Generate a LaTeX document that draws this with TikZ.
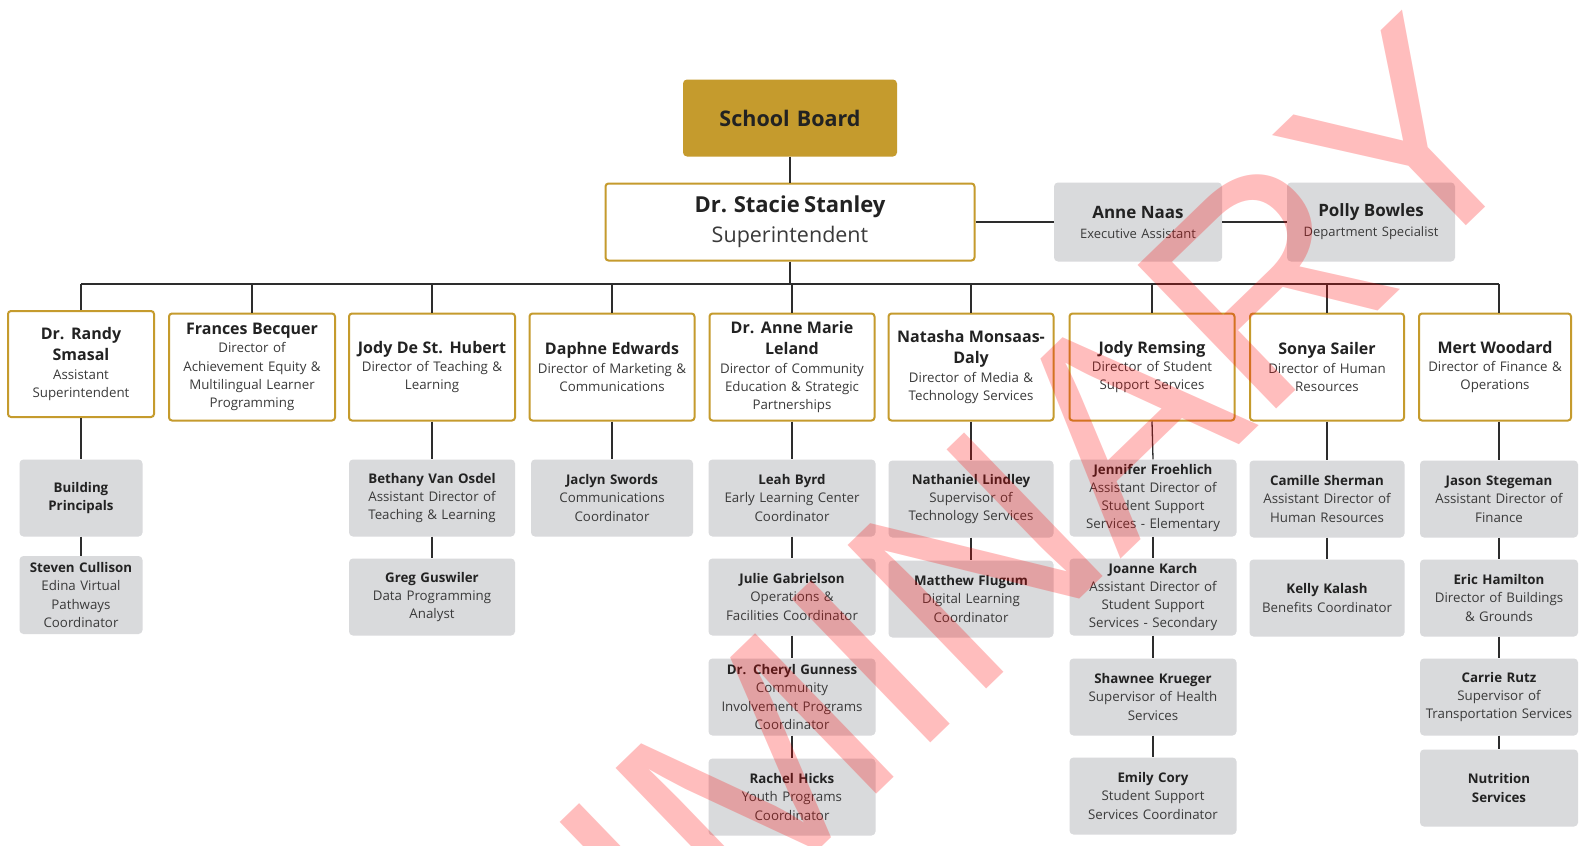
\documentclass[tikz,border=0pt]{standalone}
\usepackage{fontspec}
\setmainfont{Open Sans}
\newfontfamily\wmfont{Liberation Sans}
\setlength{\parindent}{0pt}
\definecolor{gold}{RGB}{197,155,45}
\definecolor{boxgray}{RGB}{217,218,220}
\definecolor{linegray}{RGB}{45,45,45}
\definecolor{txt}{RGB}{34,34,34}
\definecolor{subtxt}{RGB}{58,58,58}
\newcommand{\gnm}[1]{{\color{txt}\bfseries #1\par}}
\newcommand{\dnm}[1]{{\color{txt}\fontsize{16}{21.5}\selectfont\bfseries #1\par}}
\newcommand{\lowerend}{\par\vskip-6pt}
\begin{document}
\begin{tikzpicture}[x=1pt,y=-1pt,
  conn/.style={draw=linegray,line width=1.3pt},
  bx/.style 2 args={minimum width=#1pt,text width=#1pt,minimum height=#2pt},
  basebox/.style={align=center,inner sep=0pt,text=subtxt,font=\fontsize{13.3}{18.3}\selectfont},
  lowered/.style={execute at end node=\lowerend},
  dirbox/.style={basebox,lowered,draw=gold,line width=2pt,fill=white,rounded corners=3pt},
  staffbox/.style={basebox,lowered,fill=boxgray,rounded corners=4pt},
]
\path[use as bounding box] (0,0) rectangle (1583,846);
\clip (0,0) rectangle (1583,846);
\fill[white] (0,0) rectangle (1583,846);

% top
\node[basebox,fill=gold,rounded corners=4pt,bx={214}{77},text=txt,font=\fontsize{21.5}{26}\selectfont\bfseries] (board) at (790,118) {School Board};
\node[dirbox,bx={369}{77}] (supt) at (790,222) {{\color{txt}\fontsize{22}{30}\selectfont\bfseries Dr. Stacie Stanley\par}{\fontsize{21.5}{30}\selectfont Superintendent\par}};
\node[staffbox,bx={168}{79}] (naas) at (1138,222) {{\color{txt}\fontsize{17}{20}\selectfont\bfseries Anne Naas\par}{\fontsize{13}{20}\selectfont Executive Assistant\par}};
\node[staffbox,bx={168}{79}] (polly) at (1371,222) {{\color{txt}\fontsize{17}{20}\selectfont\bfseries Polly Bowles\par}{\fontsize{13}{20}\selectfont Department Specialist\par}};

% directors
\node[dirbox,bx={146}{106}] (randy) at (81,364) {\dnm{Dr. Randy\\Smasal}Assistant\\Superintendent};
\node[dirbox,bx={166}{107}] (frances) at (252,367) {\dnm{Frances Becquer}Director of\\Achievement Equity \&\\Multilingual Learner\\Programming};
\node[dirbox,bx={166}{107}] (jodyd) at (432,367) {\dnm{Jody De St. Hubert}Director of Teaching \&\\Learning};
\node[dirbox,bx={165}{107}] (daphne) at (612,367) {\dnm{Daphne Edwards}Director of Marketing \&\\Communications};
\node[dirbox,bx={165}{107}] (leland) at (792,367) {\dnm{Dr. Anne Marie\\Leland}Director of Community\\Education \& Strategic\\Partnerships};
\node[dirbox,bx={165}{107}] (natasha) at (971,367) {\dnm{Natasha Monsaas-\\Daly}Director of Media \&\\Technology Services};
\node[dirbox,bx={165}{107}] (jodyr) at (1152,367) {\dnm{Jody Remsing}Director of Student\\Support Services};
\node[dirbox,bx={154}{107}] (sonya) at (1327,367) {\dnm{Sonya Sailer}Director of Human\\Resources};
\node[dirbox,bx={152}{107}] (mert) at (1495,367) {\dnm{Mert Woodard}Director of Finance \&\\Operations};

% staff
\node[staffbox,bx={123}{77}] (bldg) at (81,498) {\gnm{Building\\Principals}};
\node[staffbox,bx={123}{78}] (steven) at (81,595) {\gnm{Steven Cullison}Edina Virtual\\Pathways\\Coordinator};

\node[staffbox,bx={166}{77}] (bethany) at (432,498) {\gnm{Bethany Van Osdel}Assistant Director of\\Teaching \& Learning};
\node[staffbox,bx={166}{77}] (greg) at (432,597) {\gnm{Greg Guswiler}Data Programming\\Analyst};

\node[staffbox,bx={162}{77}] (jaclyn) at (612,498) {\gnm{Jaclyn Swords}Communications\\Coordinator};

\node[staffbox,bx={167}{77}] (leah) at (792,498) {\gnm{Leah Byrd}Early Learning Center\\Coordinator};
\node[staffbox,bx={167}{77}] (julie) at (792,597) {\gnm{Julie Gabrielson}Operations \&\\Facilities Coordinator};
\node[staffbox,bx={167}{77}] (cheryl) at (792,697) {\gnm{Dr. Cheryl Gunness}Community\\Involvement Programs\\Coordinator};
\node[staffbox,bx={167}{77}] (rachel) at (792,797) {\gnm{Rachel Hicks}Youth Programs\\Coordinator};

\node[staffbox,bx={165}{77}] (nathaniel) at (971,499) {\gnm{Nathaniel Lindley}Supervisor of\\Technology Services};
\node[staffbox,bx={165}{77}] (matthew) at (971,599) {\gnm{Matthew Flugum}Digital Learning\\Coordinator};

\node[staffbox,bx={167}{77}] (jennifer) at (1153,498) {\gnm{Jennifer Froehlich}Assistant Director of\\Student Support\\Services - Elementary};
\node[staffbox,bx={167}{77}] (joanne) at (1153,597) {\gnm{Joanne Karch}Assistant Director of\\Student Support\\Services - Secondary};
\node[staffbox,bx={167}{77}] (shawnee) at (1153,697) {\gnm{Shawnee Krueger}Supervisor of Health\\Services};
\node[staffbox,bx={167}{77}] (emily) at (1153,796) {\gnm{Emily Cory}Student Support\\Services Coordinator};

\node[staffbox,bx={155}{77}] (camille) at (1327,499) {\gnm{Camille Sherman}Assistant Director of\\Human Resources};
\node[staffbox,bx={155}{77}] (kelly) at (1327,598) {\gnm{Kelly Kalash}Benefits Coordinator};

\node[staffbox,bx={158}{77}] (jason) at (1499,499) {\gnm{Jason Stegeman}Assistant Director of\\Finance};
\node[staffbox,bx={158}{77}] (eric) at (1499,598) {\gnm{Eric Hamilton}Director of Buildings\\\& Grounds};
\node[staffbox,bx={158}{77}] (carrie) at (1499,697) {\gnm{Carrie Rutz}Supervisor of\\Transportation Services};
\node[staffbox,bx={158}{77}] (nutrition) at (1499,788) {\gnm{Nutrition\\Services}};

% connectors
\coordinate (bus) at (0,284);
\draw[conn] (board.south) -- (supt.north);
\draw[conn] (supt.east) -- (naas.west);
\draw[conn] (naas.east) -- (polly.west);
\draw[conn] (supt.south) -- (supt.south |- bus);
\draw[conn] (randy.north |- bus) -- (jason.north |- bus);
\foreach \d in {randy,frances,jodyd,daphne,leland,natasha,jodyr,sonya}
  \draw[conn] (\d.north) -- (\d.north |- bus);
\draw[conn] (mert.north -| jason.north) -- (jason.north |- bus);
\draw[conn] (randy.south) -- (bldg.north);
\draw[conn] (bldg.south) -- (steven.north);
\draw[conn] (jodyd.south) -- (bethany.north);
\draw[conn] (bethany.south) -- (greg.north);
\draw[conn] (daphne.south) -- (jaclyn.north);
\draw[conn] (leland.south) -- (leah.north);
\draw[conn] (leah.south) -- (julie.north);
\draw[conn] (julie.south) -- (cheryl.north);
\draw[conn] (cheryl.south) -- (rachel.north);
\draw[conn] (natasha.south) -- (nathaniel.north);
\draw[conn] (nathaniel.south) -- (matthew.north);
\draw[conn] (jodyr.south) -- (jennifer.north);
\draw[conn] (jennifer.south) -- (joanne.north);
\draw[conn] (joanne.south) -- (shawnee.north);
\draw[conn] (shawnee.south) -- (emily.north);
\draw[conn] (sonya.south) -- (camille.north);
\draw[conn] (camille.south) -- (kelly.north);
\draw[conn] (mert.south -| jason.north) -- (jason.north);
\draw[conn] (jason.south) -- (eric.north);
\draw[conn] (eric.south) -- (carrie.north);
\draw[conn] (carrie.south) -- (nutrition.north);

% watermark
\node[rotate=44,anchor=base,inner sep=0pt,text=red,text opacity=0.26,font=\wmfont\fontsize{290}{290}\selectfont] (wm) at (840,830) {PRELIMINARY};
\end{tikzpicture}
\end{document}
